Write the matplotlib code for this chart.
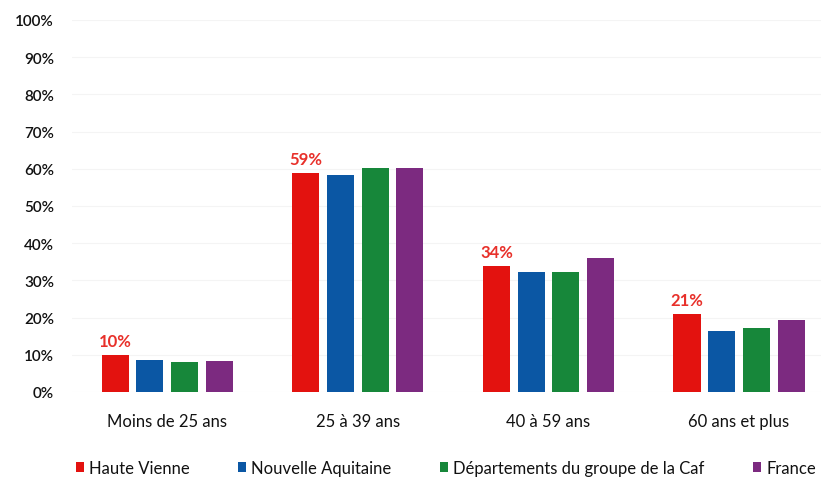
import matplotlib
matplotlib.use("Agg")
import matplotlib.pyplot as plt
import numpy as np

plt.rcParams['font.family'] = ['Lato', 'DejaVu Sans']

categories = ["Moins de 25 ans", "25 à 39 ans", "40 à 59 ans", "60 ans et plus"]
series_names = ["Haute Vienne", "Nouvelle Aquitaine", "Départements du groupe de la Caf", "France"]
haute_vienne = [10, 59, 34, 21]
nouvelle_aquitaine = [8.6, 58.4, 32.2, 16.5]
departements_caf = [8.1, 60.1, 32.2, 17.1]
france = [8.4, 60.1, 35.9, 19.4]
y_ticks = [0, 10, 20, 30, 40, 50, 60, 70, 80, 90, 100]

series = [haute_vienne, nouvelle_aquitaine, departements_caf, france]
colors = ["#e3120f", "#0b57a4", "#17873a", "#7c2a80"]

fig = plt.figure(figsize=(8.21, 4.81), dpi=100)
ax = fig.add_axes([72 / 821, 1 - 393 / 481, 1 - 72 / 821, (393 - 21) / 481])

x = np.arange(len(categories))
step = 0.182
width = 0.142
handles = []
for i, (vals, col, name) in enumerate(zip(series, colors, series_names)):
    b = ax.bar(x + (i - 1.5) * step, vals, width, color=col, label=name, zorder=3)
    handles.append(b)

# value labels above the Haute Vienne bars
for xi, v in zip(x, haute_vienne):
    ax.text(xi - 1.5 * step, v + 1.6, f"{v}%", color="#e8302a", fontsize=12,
            fontweight="bold", ha="center", va="bottom")

ax.set_xlim(-0.5, 3.43)
ax.set_ylim(0, 100)
ax.set_yticks(y_ticks)
ax.set_yticklabels([f"{t}%" for t in y_ticks], fontsize=11, color="#111111",
                   fontweight="semibold")
ax.set_xticks(x)
ax.set_xticklabels(categories, fontsize=12, color="#111111")
ax.tick_params(axis="both", length=0)
ax.tick_params(axis="y", pad=13)
ax.tick_params(axis="x", pad=15)
ax.grid(axis="y", color="#f4f4f4", linewidth=0.8, zorder=0)
for s in ax.spines.values():
    s.set_visible(False)

leg = fig.legend(handles=handles, labels=series_names, loc="center",
                 bbox_to_anchor=(0.543, 1 - 469 / 481), ncol=4, frameon=False,
                 fontsize=12, handlelength=0.5, handleheight=0.5,
                 handletextpad=0.3, columnspacing=2.9)
for t in leg.get_texts():
    t.set_color("#111111")

fig.savefig("out.png", dpi=100)
